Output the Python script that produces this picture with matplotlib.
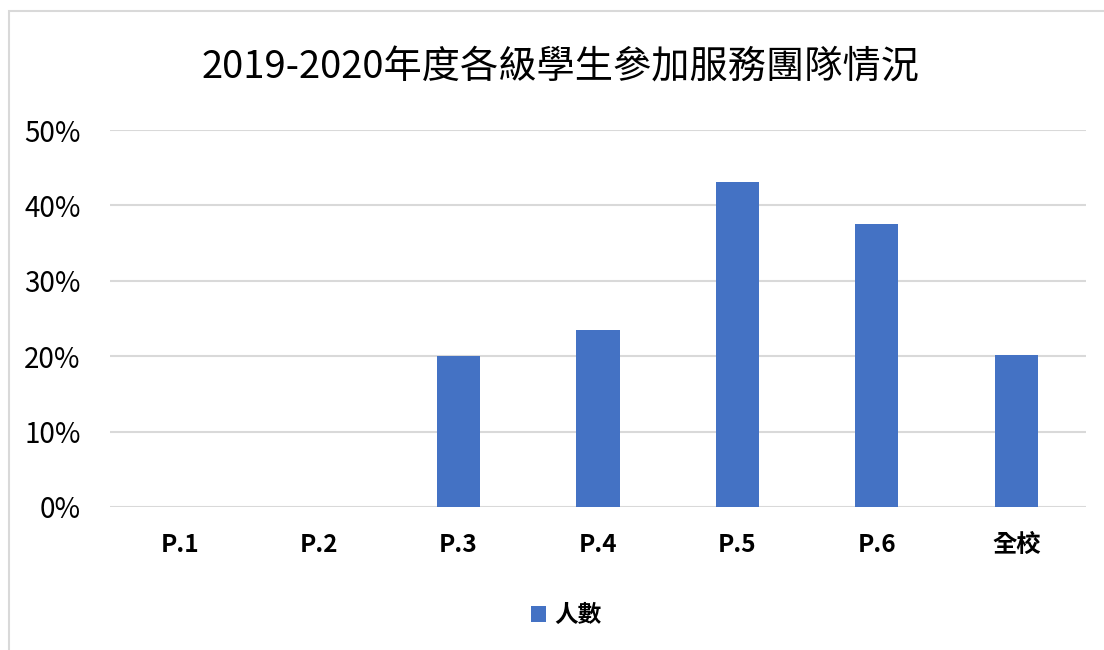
import matplotlib
matplotlib.use("Agg")
import matplotlib.pyplot as plt
from matplotlib.patches import Rectangle
from matplotlib.ticker import PercentFormatter

plt.rcParams['font.family'] = ['Noto Sans CJK TC', 'DejaVu Sans']

# data
categories = ['P.1', 'P.2', 'P.3', 'P.4', 'P.5', 'P.6', '全校']
values = [0.0, 0.0, 0.200, 0.235, 0.431, 0.375, 0.201]
yticks = [0, 0.1, 0.2, 0.3, 0.4, 0.5]
title = '2019-2020年度各級學生參加服務團隊情況'
series_name = '人數'

W, H = 1104, 650
fig = plt.figure(figsize=(W / 100, H / 100), dpi=100)

# light chart border
fig.patches.append(Rectangle((9 / W, -0.1), 1.2, (H - 11) / H + 0.1,
                             transform=fig.transFigure, fill=False,
                             edgecolor='#d9d9d9', lw=1.5))

ax = fig.add_axes([110 / W, (H - 507) / H, 976 / W, 377 / H])
bars = ax.bar(range(len(categories)), values, width=0.31, color='#4472C4',
              label=series_name, zorder=3)

ax.set_xlim(-0.5, len(categories) - 0.5)
ax.set_ylim(0, 0.5)
ax.set_yticks(yticks)
ax.yaxis.set_major_formatter(PercentFormatter(1.0, decimals=0))
ax.set_xticks(range(len(categories)))
ax.set_xticklabels(categories, fontsize=17.5, fontweight='bold')
ax.tick_params(axis='y', labelsize=20, length=0, pad=21)
ax.tick_params(axis='x', length=0, pad=19)
ax.grid(axis='y', color='#d9d9d9', lw=1.5, zorder=0)
for s in ax.spines.values():
    s.set_visible(False)

fig.text(561 / W, 1 - 68 / H, title, ha='center', va='center', fontsize=27.5)

leg = fig.legend(handles=[bars], labels=[series_name], loc='center',
                 bbox_to_anchor=(566 / W, 1 - 615 / H), frameon=False,
                 prop={'size': 17, 'weight': 'bold'}, handlelength=0.65,
                 handleheight=0.65, handletextpad=0.35)

fig.savefig('out.png', dpi=100, facecolor='white')
